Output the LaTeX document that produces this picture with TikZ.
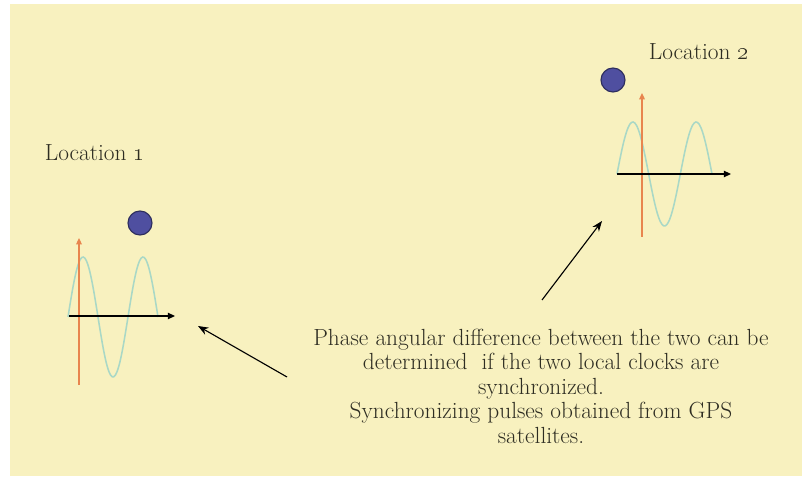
\documentclass[tikz,border=0pt]{standalone}
\usepackage{xcolor}
\usepackage{tikz}
\usetikzlibrary{arrows.meta,positioning}
\definecolor{paper}{HTML}{F8F1BF}
\definecolor{ink}{HTML}{2E2D22}
\definecolor{wave}{HTML}{A9D8C6}
\definecolor{yax}{HTML}{E8854E}
\definecolor{dot}{HTML}{4F4FA0}
\definecolor{dotrim}{HTML}{2E2E5E}
\tikzset{
  lbl/.style={font=\fontsize{16.6}{17.4}\selectfont,color=ink,align=center},
  clockdot/.style={circle,draw=dotrim,fill=dot,thick,minimum size=0.6cm,inner sep=0pt},
  sine/.style={color=wave,line width=1.1pt,smooth,samples=60},
  yaxis/.style={-{Triangle[length=1.6mm,width=1.4mm]},color=yax,line width=1.1pt},
  xaxis/.style={-{Triangle[length=1.8mm,width=1.6mm]},color=black,line width=0.9pt},
  arr/.style={-{Stealth[length=2.6mm,width=2mm]},color=black,line width=0.8pt}}
\begin{document}
\begin{tikzpicture}[x=0.025cm,y=-0.025cm]
\useasboundingbox[fill=white] (0,0) rectangle (802,478);
\fill[paper] (10,4) rectangle (802,476);
% location 1
\node[lbl] (loc1) at (95,153) {Location \oldstylenums{1}};
\node[clockdot] (clock1) at (140,223) {};
\draw[sine] plot[domain=68:158] (\x,{317-60*sin((\x-68)*6)});
\coordinate (y1a) at (79,385); \coordinate (y1b) at (79,238);
\coordinate (x1a) at (69,316); \coordinate (x1b) at (175,316);
\draw[yaxis] (y1a) -- (y1b);
\draw[xaxis] (x1a) -- (x1b);
% location 2
\node[lbl] (loc2) at (699,52) {Location \oldstylenums{2}};
\node[clockdot] (clock2) at (613,80) {};
\draw[sine] plot[domain=617:712] (\x,{174-52*sin((\x-617)*5.684)});
\coordinate (y2a) at (642,237); \coordinate (y2b) at (642,93);
\coordinate (x2a) at (617,174); \coordinate (x2b) at (731,174);
\draw[yaxis] (y2a) -- (y2b);
\draw[xaxis] (x2a) -- (x2b);
% note and pointers
\node[lbl] (note) at (541,386) {Phase angular difference between the two can be\\
determined\ \ if the two local clocks are\\ synchronized.\\
Synchronizing pulses obtained from GPS\\ satellites.};
\coordinate (p1) at (198,326); \coordinate (t1) at (287,377);
\coordinate (p2) at (602,221); \coordinate (t2) at (542,300);
\draw[arr] (t1) -- (p1);
\draw[arr] (t2) -- (p2);
\end{tikzpicture}
\end{document}
